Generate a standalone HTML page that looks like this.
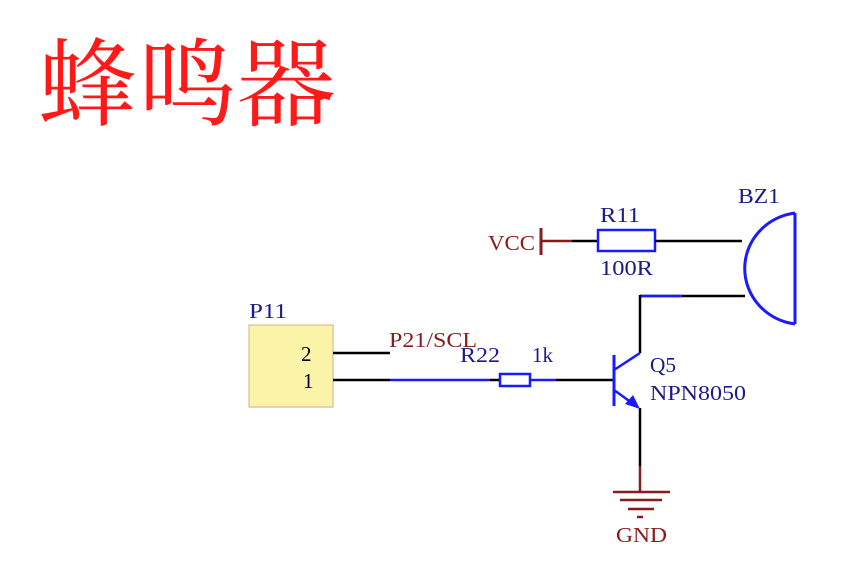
<!DOCTYPE html>
<html><head><meta charset="utf-8"><style>
body{margin:0;background:#fff;width:865px;height:568px;overflow:hidden}
</style></head><body>
<svg width="865" height="568" xmlns="http://www.w3.org/2000/svg" font-family="Liberation Serif, serif">
<text x="38" y="118" font-size="96" fill="#ff1a1a" font-family="Noto Serif CJK SC, serif" textLength="298" lengthAdjust="spacingAndGlyphs">蜂鸣器</text>
<!-- VCC -->
<text x="488" y="250" font-size="21" fill="#8b1a1a" textLength="47" lengthAdjust="spacingAndGlyphs">VCC</text>
<line x1="541" y1="228" x2="541" y2="255" stroke="#8b1a1a" stroke-width="3"/>
<line x1="541" y1="241" x2="572" y2="241" stroke="#8b1a1a" stroke-width="2.5"/>
<line x1="572" y1="241" x2="598" y2="241" stroke="#000" stroke-width="2.5"/>
<rect x="598" y="230" width="57" height="21" fill="none" stroke="#1a1aff" stroke-width="2.5"/>
<line x1="655" y1="241" x2="742" y2="241" stroke="#000" stroke-width="2.5"/>
<text x="600" y="222" font-size="21" fill="#1a1a8b" textLength="40" lengthAdjust="spacingAndGlyphs">R11</text>
<text x="600" y="275" font-size="21" fill="#1a1a8b" textLength="53" lengthAdjust="spacingAndGlyphs">100R</text>
<!-- buzzer -->
<text x="738" y="203" font-size="21" fill="#1a1a8b" textLength="42" lengthAdjust="spacingAndGlyphs">BZ1</text>
<path d="M795 213 L795 324 M795 213 A58 56 0 0 0 795 324" fill="none" stroke="#1a1aff" stroke-width="3"/>
<line x1="640" y1="296" x2="745" y2="296" stroke="#000" stroke-width="2.5"/>
<line x1="640" y1="296" x2="682" y2="296" stroke="#1a1aff" stroke-width="2.5"/>
<line x1="640" y1="295" x2="640" y2="353" stroke="#000" stroke-width="2.5"/>
<!-- P11 -->
<text x="249" y="318" font-size="21" fill="#1a1a8b" textLength="38" lengthAdjust="spacingAndGlyphs">P11</text>
<rect x="249" y="325" width="84" height="82" fill="#fbf3a8" stroke="#e0c8a0" stroke-width="1.5"/>
<text x="301" y="361" font-size="21" fill="#000">2</text>
<text x="303" y="388" font-size="21" fill="#000">1</text>
<line x1="333" y1="353" x2="390" y2="353" stroke="#000" stroke-width="2.5"/>
<text x="389" y="347" font-size="21" fill="#8b1a1a" textLength="88" lengthAdjust="spacingAndGlyphs">P21/SCL</text>
<line x1="333" y1="380" x2="390" y2="380" stroke="#000" stroke-width="2.5"/>
<line x1="390" y1="380" x2="490" y2="380" stroke="#1a1aff" stroke-width="2.5"/>
<line x1="490" y1="380" x2="500" y2="380" stroke="#000" stroke-width="2.5"/>
<rect x="500" y="374" width="30" height="12" fill="none" stroke="#1a1aff" stroke-width="2.5"/>
<line x1="530" y1="380" x2="556" y2="380" stroke="#1a1aff" stroke-width="2.5"/>
<line x1="556" y1="380" x2="613" y2="380" stroke="#000" stroke-width="2.5"/>
<text x="460" y="362" font-size="21" fill="#1a1a8b" textLength="40" lengthAdjust="spacingAndGlyphs">R22</text>
<text x="532" y="362" font-size="21" fill="#1a1a8b">1k</text>
<!-- transistor -->
<line x1="614" y1="355" x2="614" y2="406" stroke="#1a1aff" stroke-width="3"/>
<line x1="614" y1="370" x2="640" y2="353" stroke="#1a1aff" stroke-width="2.5"/>
<line x1="614" y1="390" x2="632" y2="403" stroke="#1a1aff" stroke-width="2.5"/>
<polygon points="640,409 625,404 633,395" fill="#1a1aff"/>
<line x1="640" y1="408" x2="640" y2="466" stroke="#000" stroke-width="2.5"/>
<text x="650" y="372" font-size="21" fill="#1a1a8b" textLength="26" lengthAdjust="spacingAndGlyphs">Q5</text>
<text x="650" y="400" font-size="21" fill="#1a1a8b" textLength="96" lengthAdjust="spacingAndGlyphs">NPN8050</text>
<!-- GND -->
<line x1="640" y1="466" x2="640" y2="492" stroke="#8b1a1a" stroke-width="2.5"/>
<line x1="613" y1="492" x2="670" y2="492" stroke="#8b1a1a" stroke-width="2.5"/>
<line x1="620" y1="500" x2="662" y2="500" stroke="#8b1a1a" stroke-width="2.5"/>
<line x1="628" y1="509" x2="654" y2="509" stroke="#8b1a1a" stroke-width="2.5"/>
<line x1="637" y1="517" x2="643" y2="517" stroke="#8b1a1a" stroke-width="2.5"/>
<text x="616" y="542" font-size="21" fill="#8b1a1a" textLength="51" lengthAdjust="spacingAndGlyphs">GND</text>
</svg>
</body></html>
